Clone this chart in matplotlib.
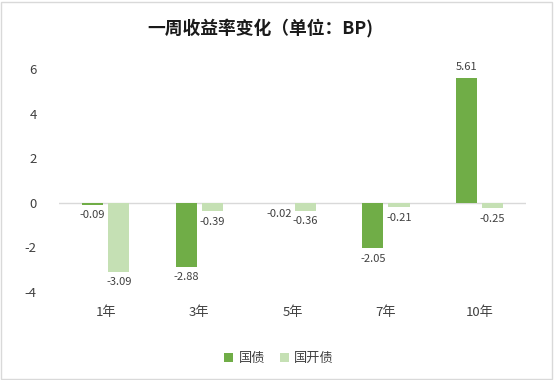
import numpy as np
import matplotlib
matplotlib.use("Agg")
import matplotlib.pyplot as plt

plt.rcParams["font.family"] = ["Noto Sans CJK SC", "DejaVu Sans"]

# — chart data —
categories = ["1年", "3年", "5年", "7年", "10年"]
guozhai = [-0.09, -2.88, -0.02, -2.05, 5.61]
guokaizhai = [-3.09, -0.39, -0.36, -0.21, -0.25]
series_names = ["国债", "国开债"]
yticks = [-4, -2, 0, 2, 4, 6]

colors = ["#70AD47", "#C5E0B4"]
text_color = "#404040"

fig = plt.figure(figsize=(5.54, 3.80), dpi=100)
ax = fig.add_axes([0.1065, 0.232, 0.843, 0.586])

x = np.arange(len(categories))
width = 0.225
offset = (width + 0.055) / 2

bars1 = ax.bar(x - offset, guozhai, width, color=colors[0], label=series_names[0])
bars2 = ax.bar(x + offset, guokaizhai, width, color=colors[1], label=series_names[1])

# value labels
for bars, vals in ((bars1, guozhai), (bars2, guokaizhai)):
    for b, v in zip(bars, vals):
        cx = b.get_x() + b.get_width() / 2
        if v >= 0:
            ax.annotate(f"{v:.2f}", (cx, v), xytext=(0, 4), textcoords="offset points",
                        ha="center", va="bottom", fontsize=8, color=text_color)
        else:
            ax.annotate(f"{v:.2f}", (cx, v), xytext=(0, -4), textcoords="offset points",
                        ha="center", va="top", fontsize=8, color=text_color)

ax.set_xlim(-0.5, len(categories) - 0.5)
ax.set_ylim(-4, 6)
ax.set_yticks(yticks)
ax.set_yticklabels([str(t) for t in yticks])
ax.set_xticks(x)
ax.set_xticklabels(categories)
ax.tick_params(axis="both", length=0, labelsize=9.5, colors=text_color)
ax.tick_params(axis="y", pad=16)
ax.tick_params(axis="x", pad=10)
for s in ax.spines.values():
    s.set_visible(False)
ax.axhline(0, color="#D9D9D9", lw=1, zorder=0)

fig.suptitle("一周收益率变化（单位：BP)", x=0.47, y=0.95, fontsize=12.8, fontweight="bold",
             color="#1a1a1a")

ax.legend(loc="center", bbox_to_anchor=(0.471, -0.30), ncol=2, frameon=False,
          fontsize=9.5, handlelength=0.7, handleheight=0.7, columnspacing=1.1,
          handletextpad=0.4, labelcolor=text_color)

# light border around the whole chart
fig.patches.append(plt.Rectangle((0.002, 0.003), 0.995, 0.993, transform=fig.transFigure,
                                 fill=False, edgecolor="#D9D9D9", lw=1))

fig.savefig("out.png", dpi=100)
